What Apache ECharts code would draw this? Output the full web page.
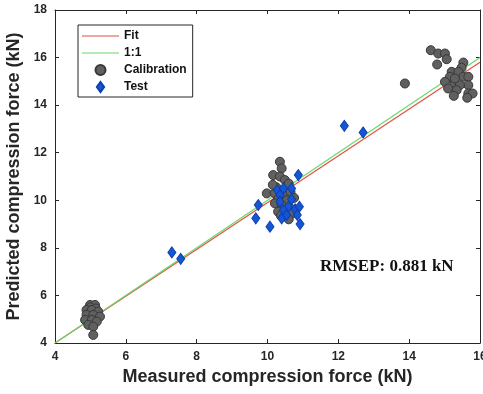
<!DOCTYPE html>
<html>
<head>
<meta charset="utf-8">
<script src="https://cdn.jsdelivr.net/npm/echarts@6/dist/echarts.min.js"></script>
<style>
  html, body { margin: 0; padding: 0; background: #fff; }
  #chart { width: 483px; height: 394px; }
</style>
</head>
<body>
<div id="chart"></div>
<script>
// axis ticks
const xTicks = [4, 6, 8, 10, 12, 14, 16]
const yTicks = [4, 6, 8, 10, 12, 14, 16, 18]

// regression line and 1:1 reference line (end points)
const fitLine = [[4, 4.0], [16, 15.8]]
const oneToOne = [[4, 4], [16, 16]]

// calibration set [measured, predicted]
const calibration = [
  [4.99, 5.60], [5.13, 5.60], [5.00, 5.50], [5.15, 5.45], [4.89, 5.39], [5.04, 5.39],
  [5.22, 5.32], [4.89, 5.18], [5.08, 5.18], [5.27, 5.11], [4.85, 4.97], [5.04, 4.97],
  [5.18, 4.90], [4.94, 4.76], [5.08, 4.69], [5.08, 4.34],
  [10.35, 11.62], [10.40, 11.34], [10.16, 11.06], [10.35, 11.00], [10.49, 10.85],
  [10.60, 10.70], [9.98, 10.29], [10.20, 10.30], [10.45, 10.20], [10.65, 10.35],
  [10.30, 10.05], [10.55, 10.00], [10.21, 9.87], [10.40, 9.80], [10.62, 9.70],
  [10.30, 9.52], [10.50, 9.55], [10.54, 9.31], [10.70, 9.45], [10.38, 9.35],
  [10.60, 9.20], [10.25, 10.55], [10.15, 10.65], [10.75, 10.10],
  [13.88, 14.91],
  [14.61, 16.31], [14.82, 16.17], [15.01, 16.17], [15.06, 15.93], [14.79, 15.71],
  [15.53, 15.79], [15.48, 15.57], [15.20, 15.40], [15.39, 15.40], [15.53, 15.19],
  [15.15, 15.19], [15.01, 14.98], [15.29, 14.91], [15.67, 15.19], [15.67, 14.84],
  [15.43, 14.84], [15.10, 14.70], [15.34, 14.63], [15.67, 14.49], [15.79, 14.49],
  [15.26, 14.39], [15.64, 14.31], [15.29, 15.12]
]

// test set [measured, predicted]
const test = [
  [7.30, 7.81], [7.55, 7.54],
  [9.74, 9.80], [9.67, 9.24], [10.07, 8.89], [10.92, 9.00], [10.87, 11.06],
  [10.28, 10.43], [10.45, 10.50], [10.68, 10.50], [10.35, 10.22], [10.35, 9.94],
  [10.68, 10.04], [10.59, 9.73], [10.45, 9.59], [10.78, 9.62], [10.90, 9.73],
  [10.40, 9.24], [10.54, 9.38], [10.84, 9.38],
  [12.17, 13.13], [12.70, 12.85]
]

const axisColor = '#262626'
const fitColor = '#e0504a'
const lineColor = '#6ad86a'
const calColor = '#606060'
const testColor = '#1656d4'
const labelFont = { fontFamily: 'Liberation Sans', fontWeight: 'bold', fontSize: 12, color: '#262626' }
const titleFont = { fontFamily: 'Liberation Sans', fontWeight: 'bold', fontSize: 18, color: '#262626' }

const chart = echarts.init(document.getElementById('chart'))

const frameAxis = (extra) => Object.assign({
  type: 'value',
  interval: 2,
  axisLine: { show: true, onZero: false, lineStyle: { color: axisColor, width: 1 } },
  axisTick: { show: true, inside: true, length: 4, lineStyle: { color: axisColor } },
  axisLabel: { show: false },
  splitLine: { show: false }
}, extra)

chart.setOption({
  animation: false,
  backgroundColor: '#fff',
  grid: { left: 55, top: 10, right: 3, bottom: 51, containLabel: false, outerBoundsMode: 'none' },
  legend: {
    orient: 'vertical',
    left: 78,
    top: 25,
    padding: [5, 6, 4, 4],
    itemGap: 5,
    itemWidth: 37,
    itemHeight: 10,
    borderColor: '#262626',
    borderWidth: 1,
    backgroundColor: '#fff',
    textStyle: { fontFamily: 'Liberation Sans', fontWeight: 'bold', fontSize: 12, color: '#111' },
    data: [
      { name: 'Fit', icon: 'path://M0,0h37v1.2h-37z', itemStyle: { color: fitColor } },
      { name: '1:1', icon: 'path://M0,0h37v1.2h-37z', itemStyle: { color: lineColor } },
      { name: 'Calibration', icon: 'circle' },
      { name: 'Test', icon: 'path://M4,0L8,5.5L4,11L0,5.5z' }
    ]
  },
  xAxis: [
    frameAxis({
      min: xTicks[0], max: xTicks[xTicks.length - 1], position: 'bottom',
      axisLabel: Object.assign({ show: true, margin: 8, showMaxLabel: true }, labelFont),
      name: 'Measured compression force (kN)',
      nameLocation: 'middle',
      nameGap: 25,
      nameTextStyle: titleFont
    }),
    frameAxis({ min: xTicks[0], max: xTicks[xTicks.length - 1], position: 'top' })
  ],
  yAxis: [
    frameAxis({
      min: yTicks[0], max: yTicks[yTicks.length - 1], position: 'left',
      axisLabel: Object.assign({ show: true, margin: 8 }, labelFont),
      name: 'Predicted compression force (kN)',
      nameLocation: 'middle',
      nameGap: 25,
      nameTextStyle: titleFont
    }),
    frameAxis({ min: yTicks[0], max: yTicks[yTicks.length - 1], position: 'right' })
  ],
  graphic: [{
    type: 'text',
    left: 320,
    top: 258,
    style: {
      text: 'RMSEP: 0.881 kN',
      font: 'bold 17px "Liberation Serif"',
      fill: '#111'
    }
  }],
  series: [
    {
      name: 'Fit', type: 'line', data: fitLine, showSymbol: false, symbol: 'none',
      lineStyle: { color: fitColor, width: 1.2 }, itemStyle: { color: fitColor }, z: 2
    },
    {
      name: '1:1', type: 'line', data: oneToOne, showSymbol: false, symbol: 'none',
      lineStyle: { color: lineColor, width: 1.2 }, itemStyle: { color: lineColor }, z: 2
    },
    {
      name: 'Calibration', type: 'scatter', data: calibration, symbol: 'circle', symbolSize: 9,
      symbolKeepAspect: true,
      itemStyle: { color: calColor, borderColor: '#383838', borderWidth: 1, opacity: 1 }, z: 3
    },
    {
      name: 'Test', type: 'scatter', data: test, symbol: 'diamond', symbolSize: [8, 11],
      symbolKeepAspect: true,
      itemStyle: { color: testColor, borderColor: '#0c3fae', borderWidth: 1, opacity: 1 }, z: 4
    }
  ]
})
</script>
</body>
</html>
